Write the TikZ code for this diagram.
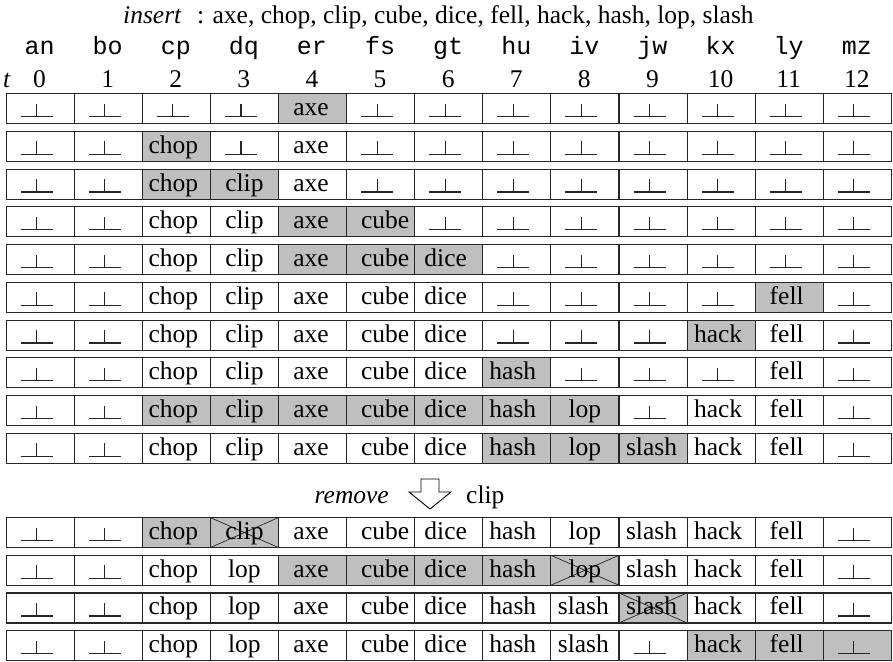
\documentclass[tikz,border=0pt]{standalone}
\usepackage{fontspec}
\setmainfont{Liberation Serif}
\setmonofont{Liberation Mono}
\expandafter\def\csname shcube\endcsname{9pt}
\expandafter\def\csname shhash\endcsname{-8pt}
\expandafter\def\csname shchop\endcsname{-6pt}
\expandafter\def\csname shfell\endcsname{-5pt}
\expandafter\def\csname shhack\endcsname{-6pt}
\expandafter\def\csname shdice\endcsname{-6pt}
\expandafter\def\csname shslash\endcsname{-3pt}
\expandafter\def\csname shaxe\endcsname{-3pt}
\newcommand\cellword[1]{\ifcsname sh#1\endcsname\hspace*{\csname sh#1\endcsname}\fi#1}
\begin{document}
\begin{tikzpicture}[x=1pt,y=-1pt,
  txt/.style={font=\fontsize{25.5}{30}\selectfont, inner sep=0pt},
  lbl/.style={font=\fontsize{25}{30}\selectfont\ttfamily, inner sep=0pt, anchor=base},
  cell/.style={draw=black!85, line width=1.1pt, minimum width=68.1pt, minimum height=30pt,
    inner sep=0pt, text height=17pt, text depth=3pt, font=\fontsize{25.5}{30}\selectfont,
    anchor=north west},
  hl/.style={fill=black!25},
  nil/.style={path picture={\draw[line width=1.2pt]
      ([xshift=-19.5pt,yshift=-8pt]path picture bounding box.center) -- ++(32pt,0pt)
      ([xshift=-3.5pt,yshift=-8pt]path picture bounding box.center) -- ++(0pt,13pt);}},
  hlnil/.style={hl,nil},
  xout/.style={path picture={\draw[line width=0.7pt]
      (path picture bounding box.north west) -- (path picture bounding box.south east)
      (path picture bounding box.south west) -- (path picture bounding box.north east);}},
  hlx/.style={hl,xout}
]
\useasboundingbox (0,0) rectangle (893,661);

\newcommand\tblrow[3]{%
  \foreach \w/\s [count=\i from 0] in {#3}{%
    \node[cell,\s] (#1-\i) at ({5.5+68.1*\i},#2) {\cellword{\w}};
  }%
}

% title
\node[txt, anchor=base west] (title) at (123,24)
  {\textit{insert}\hspace{0.6em}: axe, chop, clip, cube, dice, fell, hack, hash, lop, slash};

% column headers
\node[txt, anchor=base] (tlab) at (7,87) {\textit{t}};
\foreach \l [count=\i from 0] in {an,bo,cp,dq,er,fs,gt,hu,iv,jw,kx,ly,mz}{
  \node[lbl] (l-\i) at ({5.5+68.1*(\i+0.5)},55) {\l};
  \node[txt, anchor=base] (n-\i) at ({5.5+68.1*(\i+0.5)},87) {\i};
}

% insert phase
\tblrow{r1}{93}{/nil,/nil,/nil,/nil,axe/hl,/nil,/nil,/nil,/nil,/nil,/nil,/nil,/nil}
\tblrow{r2}{130.75}{/nil,/nil,chop/hl,/nil,axe/,/nil,/nil,/nil,/nil,/nil,/nil,/nil,/nil}
\tblrow{r3}{168.5}{/nil,/nil,chop/hl,clip/hl,axe/,/nil,/nil,/nil,/nil,/nil,/nil,/nil,/nil}
\tblrow{r4}{206.25}{/nil,/nil,chop/,clip/,axe/hl,cube/hl,/nil,/nil,/nil,/nil,/nil,/nil,/nil}
\tblrow{r5}{244}{/nil,/nil,chop/,clip/,axe/hl,cube/hl,dice/hl,/nil,/nil,/nil,/nil,/nil,/nil}
\tblrow{r6}{281.75}{/nil,/nil,chop/,clip/,axe/,cube/,dice/,/nil,/nil,/nil,/nil,fell/hl,/nil}
\tblrow{r7}{319.5}{/nil,/nil,chop/,clip/,axe/,cube/,dice/,/nil,/nil,/nil,hack/hl,fell/,/nil}
\tblrow{r8}{357.25}{/nil,/nil,chop/,clip/,axe/,cube/,dice/,hash/hl,/nil,/nil,/nil,fell/,/nil}
\tblrow{r9}{395}{/nil,/nil,chop/hl,clip/hl,axe/hl,cube/hl,dice/hl,hash/hl,lop/hl,/nil,hack/,fell/,/nil}
\tblrow{r10}{432.75}{/nil,/nil,chop/,clip/,axe/,cube/,dice/,hash/hl,lop/hl,slash/hl,hack/,fell/,/nil}

% remove label
\node[txt, anchor=base east] (rm) at (389,503) {\textit{remove}};
\draw[line width=0.9pt, fill=white] (421,479) -- (439,479) -- (439,492) -- (451,492)
  -- (430,509) -- (409,492) -- (421,492) -- cycle;
\node[txt, anchor=base west] (rmw) at (466,503) {clip};

% remove phase
\tblrow{s1}{517}{/nil,/nil,chop/hl,clip/hlx,axe/,cube/,dice/,hash/,lop/,slash/,hack/,fell/,/nil}
\tblrow{s2}{554.7}{/nil,/nil,chop/,lop/,axe/hl,cube/hl,dice/hl,hash/hl,lop/hlx,slash/,hack/,fell/,/nil}
\tblrow{s3}{592.4}{/nil,/nil,chop/,lop/,axe/,cube/,dice/,hash/,slash/,slash/hlx,hack/,fell/,/nil}
\tblrow{s4}{630.1}{/nil,/nil,chop/,lop/,axe/,cube/,dice/,hash/,slash/,/nil,hack/hl,fell/hl,/hlnil}
\end{tikzpicture}
\end{document}
